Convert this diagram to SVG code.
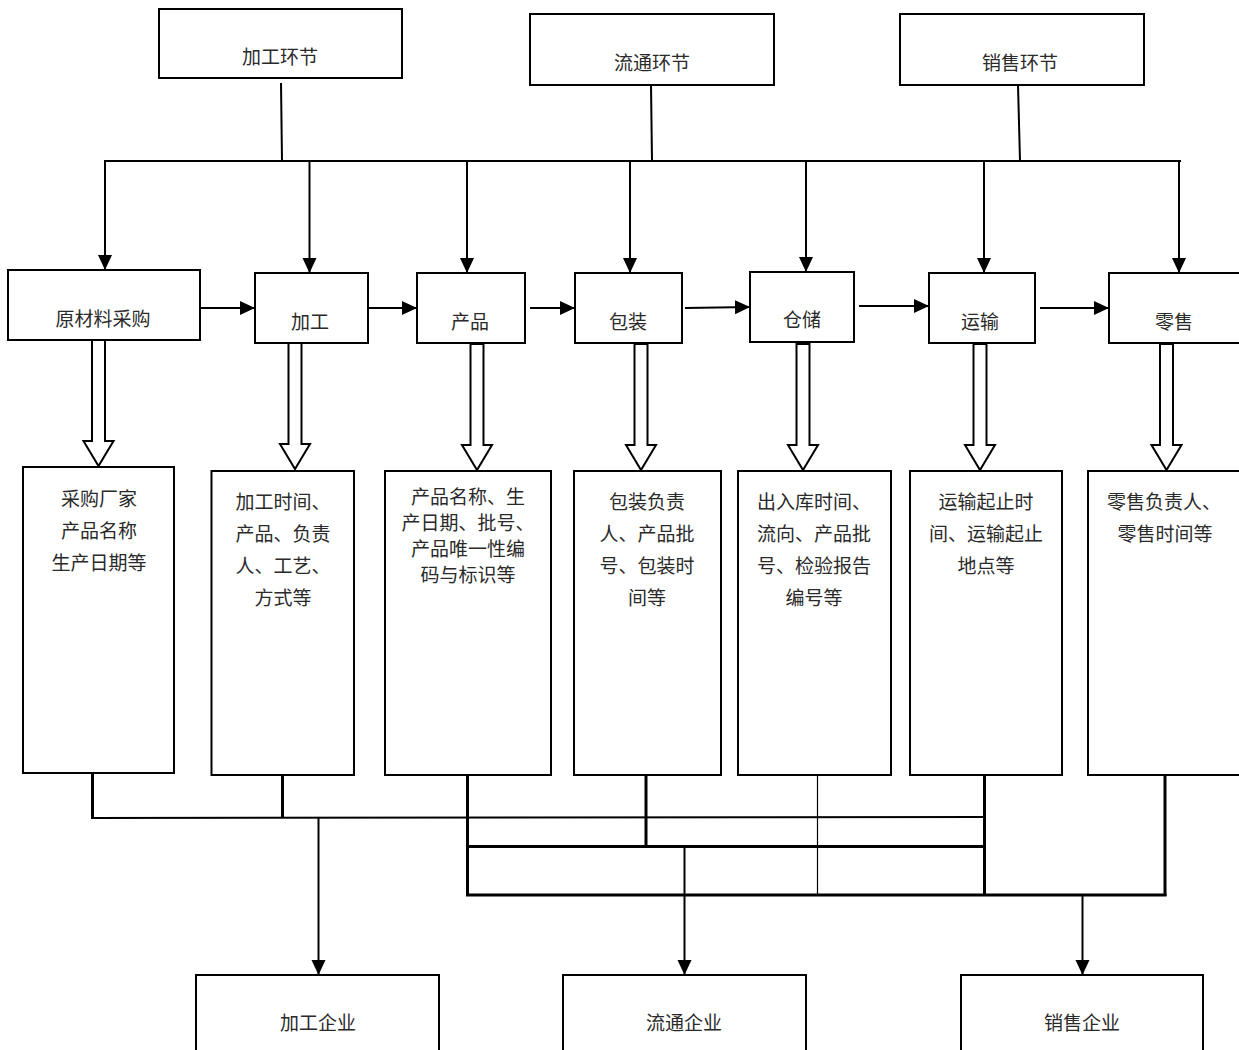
<svg xmlns="http://www.w3.org/2000/svg" width="1239" height="1050" viewBox="0 0 1239 1050">
<style>
.box{fill:#fff;stroke:#000;stroke-width:2}
.t{font-family:"Noto Sans CJK SC","Noto Sans",sans-serif;font-size:19px;fill:#2a2a2a;text-anchor:middle;dominant-baseline:central}
.ln{fill:none;stroke:#000;stroke-width:2}
.lt{fill:none;stroke:#000;stroke-width:1.2}
.lk{fill:none;stroke:#000;stroke-width:3}
.ar{fill:none;stroke:#000;stroke-width:2;marker-end:url(#ah)}
.ha{fill:#fff;stroke:#000;stroke-width:2}
</style>
<defs>
<marker id="ah" markerUnits="userSpaceOnUse" markerWidth="16" markerHeight="16" viewBox="0 0 16 14" refX="15" refY="7" orient="auto">
<path d="M0,0 L15,7 L0,14 Z" fill="#000"/>
</marker>
<path id="hollow" d="M-6.5,0 L6.5,0 L6.5,101 L15,101 L0,126 L-15,101 L-6.5,101 Z"/>
</defs>
<rect width="1239" height="1050" fill="#fff"/>

<g id="connectors">
<!-- top stems -->
<line class="ln" x1="281" y1="83" x2="282" y2="161"/>
<line class="ln" x1="651" y1="85" x2="652" y2="161"/>
<line class="ln" x1="1018" y1="85" x2="1020" y2="161"/>
<line class="ln" x1="104" y1="161" x2="1181" y2="161"/>
<!-- drops -->
<line class="ar" x1="105" y1="161" x2="105" y2="270"/>
<line class="ar" x1="309.5" y1="161" x2="309.5" y2="273"/>
<line class="ar" x1="467" y1="161" x2="467" y2="273"/>
<line class="ar" x1="630" y1="161" x2="630" y2="273"/>
<line class="ar" x1="806" y1="161" x2="806" y2="272"/>
<line class="ar" x1="984" y1="161" x2="984" y2="273"/>
<line class="ar" x1="1179" y1="161" x2="1179" y2="273"/>
<!-- horizontal flow -->
<line class="ar" x1="200" y1="308" x2="255" y2="308"/>
<line class="ar" x1="368" y1="308" x2="417" y2="308"/>
<line class="ar" x1="530" y1="308" x2="575" y2="308"/>
<line class="ar" x1="685" y1="308" x2="750" y2="307"/>
<line class="ar" x1="859" y1="306" x2="929" y2="306"/>
<line class="ar" x1="1040" y1="308" x2="1109" y2="308"/>
<!-- hollow arrows -->
<use href="#hollow" class="ha" x="98.5" y="340"/>
<use href="#hollow" class="ha" x="295" y="343"/>
<use href="#hollow" class="ha" x="477" y="344"/>
<use href="#hollow" class="ha" x="641" y="344"/>
<use href="#hollow" class="ha" x="803" y="344"/>
<use href="#hollow" class="ha" x="980" y="344"/>
<use href="#hollow" class="ha" x="1166.5" y="344"/>
<!-- bottom collection -->
<line class="lk" x1="92.5" y1="773" x2="92.5" y2="818"/>
<line class="lk" x1="282.5" y1="775" x2="282.5" y2="818"/>
<line class="ln" x1="91" y1="818" x2="984" y2="817"/>
<line class="lk" x1="467.5" y1="773" x2="467.5" y2="896"/>
<line class="lk" x1="646" y1="775" x2="646" y2="847"/>
<line class="lk" x1="467" y1="846.5" x2="985" y2="846.5"/>
<line class="lt" x1="817.5" y1="775" x2="817.5" y2="895"/>
<line class="lk" x1="984.5" y1="775" x2="984.5" y2="896"/>
<line class="lk" x1="1165" y1="775" x2="1165" y2="896"/>
<line class="lk" x1="466" y1="895" x2="1166.5" y2="895"/>
<line class="ar" x1="318.5" y1="818" x2="318.5" y2="975"/>
<line class="ar" x1="684.5" y1="847" x2="684.5" y2="975"/>
<line class="ar" x1="1082.5" y1="896" x2="1082.5" y2="975"/>
</g>

<g id="n-jiagong-huanjie"><rect class="box" x="159" y="9" width="243" height="69"/><text class="t" x="280" y="55">加工环节</text></g>
<g id="n-liutong-huanjie"><rect class="box" x="530" y="14" width="244" height="71"/><text class="t" x="652" y="61">流通环节</text></g>
<g id="n-xiaoshou-huanjie"><rect class="box" x="900" y="14" width="244" height="71"/><text class="t" x="1020" y="61">销售环节</text></g>

<g id="n-yuancailiao"><rect class="box" x="8" y="270" width="192" height="70"/><text class="t" x="103" y="317">原材料采购</text></g>
<g id="n-jiagong"><rect class="box" x="255" y="273" width="113" height="70"/><text class="t" x="310" y="320">加工</text></g>
<g id="n-chanpin"><rect class="box" x="417" y="273" width="108" height="70"/><text class="t" x="470" y="320">产品</text></g>
<g id="n-baozhuang"><rect class="box" x="575" y="273" width="107" height="70"/><text class="t" x="628" y="320">包装</text></g>
<g id="n-cangchu"><rect class="box" x="750" y="272" width="104" height="70"/><text class="t" x="802" y="318">仓储</text></g>
<g id="n-yunshu"><rect class="box" x="929" y="273" width="106" height="70"/><text class="t" x="980" y="320">运输</text></g>
<g id="n-lingshou"><rect class="box" x="1109" y="273" width="140" height="70"/><text class="t" x="1174" y="320">零售</text></g>

<g id="n-d1"><rect class="box" x="23" y="467" width="151" height="306"/>
<text class="t" x="99" y="497">采购厂家</text><text class="t" x="99" y="529">产品名称</text><text class="t" x="99" y="561">生产日期等</text></g>
<g id="n-d2"><rect class="box" x="211.5" y="471" width="142.5" height="304"/>
<text class="t" x="283" y="500">加工时间、</text><text class="t" x="283" y="532">产品、负责</text><text class="t" x="283" y="564">人、工艺、</text><text class="t" x="283" y="596">方式等</text></g>
<g id="n-d3"><rect class="box" x="385" y="471" width="166" height="304"/>
<text class="t" x="468" y="495">产品名称、生</text><text class="t" x="468" y="521">产日期、批号、</text><text class="t" x="468" y="547">产品唯一性编</text><text class="t" x="468" y="573">码与标识等</text></g>
<g id="n-d4"><rect class="box" x="574" y="471" width="147" height="304"/>
<text class="t" x="647" y="500">包装负责</text><text class="t" x="647" y="532">人、产品批</text><text class="t" x="647" y="564">号、包装时</text><text class="t" x="647" y="596">间等</text></g>
<g id="n-d5"><rect class="box" x="738" y="471" width="153" height="304"/>
<text class="t" x="814" y="500">出入库时间、</text><text class="t" x="814" y="532">流向、产品批</text><text class="t" x="814" y="564">号、检验报告</text><text class="t" x="814" y="596">编号等</text></g>
<g id="n-d6"><rect class="box" x="910" y="471" width="152" height="304"/>
<text class="t" x="986" y="500">运输起止时</text><text class="t" x="986" y="532">间、运输起止</text><text class="t" x="986" y="564">地点等</text></g>
<g id="n-d7"><rect class="box" x="1088" y="471" width="160" height="304"/>
<text class="t" x="1164" y="500">零售负责人、</text><text class="t" x="1165" y="532">零售时间等</text></g>

<g id="n-jiagong-qiye"><rect class="box" x="196" y="975" width="243" height="90"/><text class="t" x="318" y="1021">加工企业</text></g>
<g id="n-liutong-qiye"><rect class="box" x="563" y="975" width="243" height="90"/><text class="t" x="684" y="1021">流通企业</text></g>
<g id="n-xiaoshou-qiye"><rect class="box" x="961" y="975" width="242" height="90"/><text class="t" x="1082" y="1021">销售企业</text></g>
</svg>
